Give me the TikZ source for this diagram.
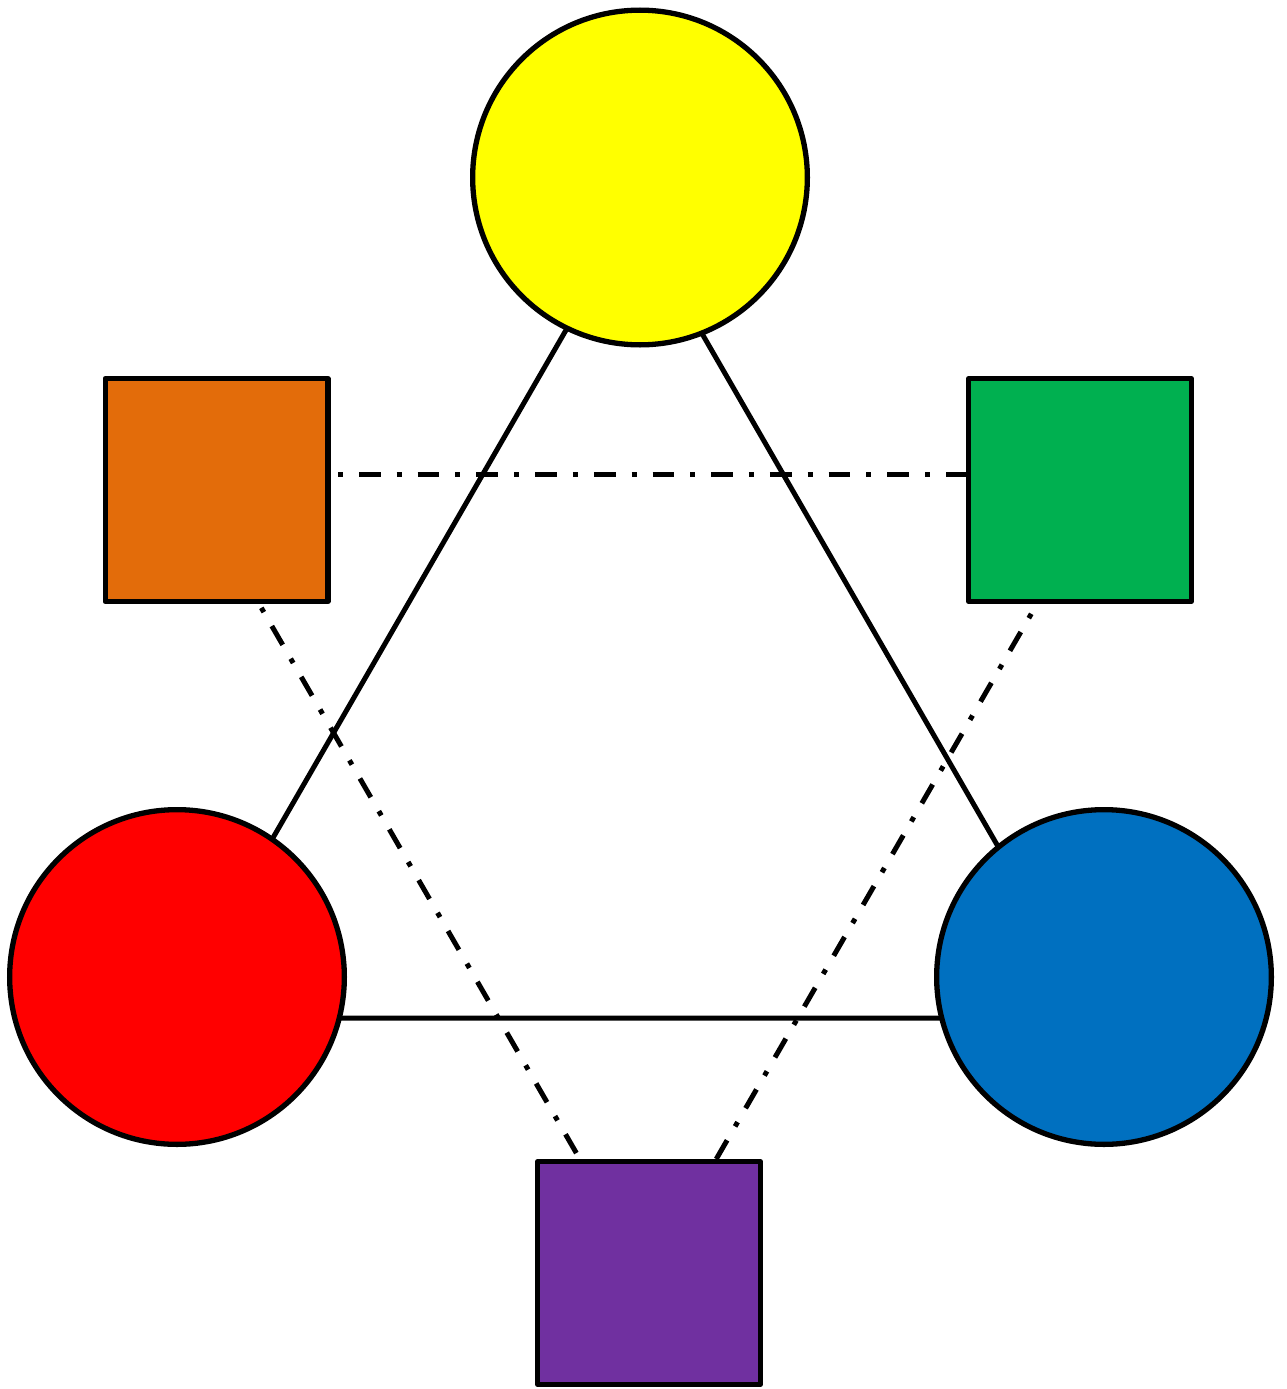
\documentclass[tikz,border=0pt]{standalone}
\definecolor{cyellow}{HTML}{FFFF00}
\definecolor{cred}{HTML}{FF0000}
\definecolor{cblue}{HTML}{0070C0}
\definecolor{corange}{HTML}{E36C0A}
\definecolor{cgreen}{HTML}{00B050}
\definecolor{cpurple}{HTML}{7030A0}
\tikzset{
  disc/.style={circle, draw=black, line width=5.3pt, minimum size=334.7pt, inner sep=0pt},
  sq/.style={rectangle, draw=black, line width=5.3pt, minimum size=222.7pt, inner sep=0pt, line join=round},
  solidline/.style={draw=black, line width=5pt},
  dd/.style={draw=black, line width=5pt, dash pattern=on 21.7pt off 16pt on 5pt off 16pt}
}
\begin{document}
\begin{tikzpicture}[x=1pt,y=-1pt]
\useasboundingbox (0,0) rectangle (1287,1389);
% solid triangle (drawn behind the circles)
\coordinate (T1) at (633,214);
\coordinate (T2) at (169,1018);
\coordinate (T3) at (1097,1018);
\draw[solidline] (T1) -- (T2) -- (T3) -- cycle;
% circles
\node[disc, fill=cyellow] (yellow) at (640,177.5) {};
\node[disc, fill=cred] (red) at (177,977) {};
\node[disc, fill=cblue] (blue) at (1104,977) {};
% squares
\node[sq, fill=corange] (orange) at (216.5,490) {};
\node[sq, fill=cgreen] (green) at (1080,490) {};
\node[sq, fill=cpurple] (purple) at (649,1273) {};
% dash-dot triangle guide points
\coordinate (L1) at (184,474);
\coordinate (R1) at (1112,474);
\coordinate (B1) at (648,1277);
\draw[dd, dash phase=30.2pt] (orange.east |- L1) -- (green.west |- L1);
\draw[dd, dash phase=33.3pt]
  (intersection of orange.south west--orange.south east and L1--B1) --
  (intersection of purple.north west--purple.north east and L1--B1);
\draw[dd, dash phase=0pt]
  (intersection of purple.north west--purple.north east and R1--B1) --
  (intersection of green.south west--green.south east and R1--B1);
\end{tikzpicture}
\end{document}
